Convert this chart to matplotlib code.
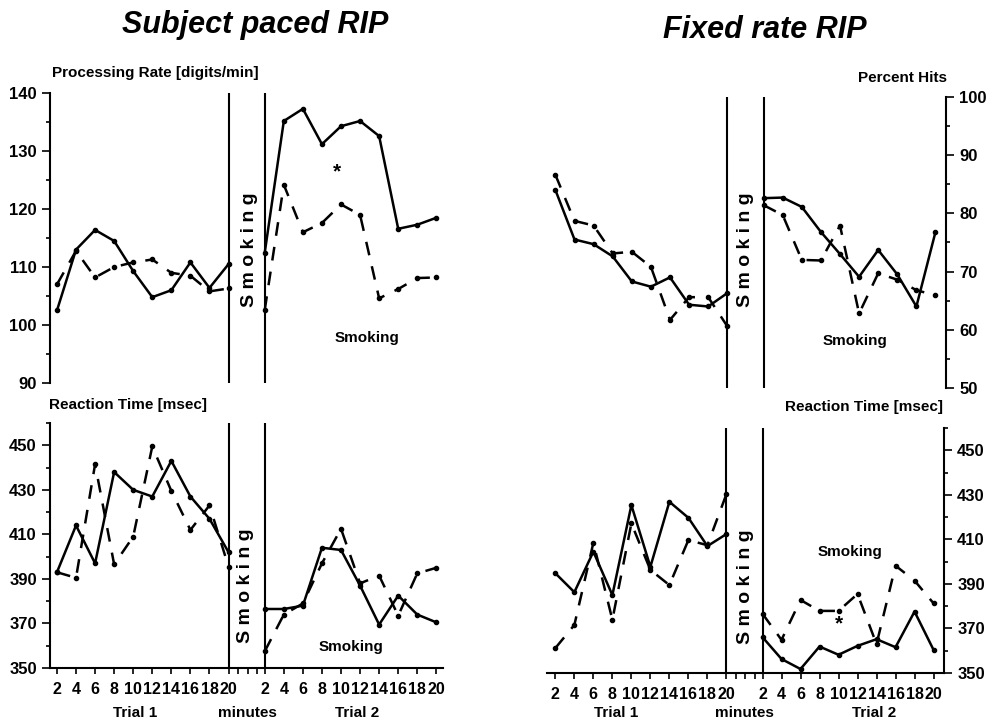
import matplotlib.pyplot as plt
import numpy as np
from matplotlib.ticker import MultipleLocator

plt.rcParams["font.family"] = ["Liberation Sans", "DejaVu Sans"]
plt.rcParams["font.weight"] = "bold"

minutes = [2, 4, 6, 8, 10, 12, 14, 16, 18, 20]

# subject paced RIP: processing rate [digits/min]
sp_rate_t1_a = [102.5, 113.0, 116.4, 114.5, 109.3, 104.8, 106.0, 110.8, 106.4, 110.5]
sp_rate_t1_b = [107.0, 112.8, 108.2, 110.0, 110.8, 111.3, 109.0, 108.5, 105.8, 106.3]
sp_rate_t2_a = [112.5, 135.2, 137.3, 131.2, 134.3, 135.2, 132.6, 116.6, 117.3, 118.5]
sp_rate_t2_b = [102.6, 124.2, 116.0, 117.6, 120.8, 119.0, 104.6, 106.2, 108.1, 108.2]

# subject paced RIP: reaction time [msec]
sp_rt_t1_a = [393, 414, 397, 438, 430, 427, 443, 427, 417, 402]
sp_rt_t1_b = [393, 390.5, 441.5, 396.5, 409, 449.5, 429.5, 412, 423, 395.5]
sp_rt_t2_a = [376.5, 376.5, 378, 404, 403, 387, 369.5, 382.5, 374, 370.5]
sp_rt_t2_b = [357.5, 374, 379, 397, 412.5, 388, 391.5, 373.5, 392.5, 395]

# fixed rate RIP: percent hits
fr_hits_t1_a = [84.0, 75.5, 74.7, 72.6, 68.3, 67.4, 69.0, 64.3, 64.0, 66.3]
fr_hits_t1_b = [86.6, 78.7, 77.9, 73.1, 73.4, 70.8, 61.7, 65.6, 65.6, 60.6]
fr_hits_t2_a = [82.6, 82.7, 81.1, 76.8, 73.0, 69.1, 73.7, 69.5, 64.0, 76.8]
fr_hits_t2_b = [81.4, 79.7, 72.0, 71.9, 77.9, 62.8, 69.7, 68.6, 66.8, 65.9]

# fixed rate RIP: reaction time [msec]
fr_rt_t1_a = [394.8, 386.3, 404.5, 385, 425.4, 397.7, 426.9, 419.7, 407, 412.4]
fr_rt_t1_b = [361.2, 371.6, 408.5, 373.9, 417.2, 396.3, 389.5, 409.7, 407.4, 430.3]
fr_rt_t2_a = [366.1, 356.3, 351.8, 361.9, 358.2, 362.2, 365.2, 361.6, 377.6, 360.4]
fr_rt_t2_b = [376.6, 364.9, 382.8, 377.9, 377.9, 385.5, 363, 398.2, 391.5, 381.3]

OFFSET = 21.8  # trial 2 is drawn after a gap on the same axis


def draw_panel(ax, t1_a, t1_b, t2_a, t2_b, xlim, ylim, side, bottom):
    x1 = np.array(minutes)
    x2 = x1 + OFFSET
    for xs, a, b in ((x1, t1_a, t1_b), (x2, t2_a, t2_b)):
        ax.plot(xs, a, color="black", lw=1.8, marker="o", ms=3)
        ax.plot(xs, b, color="black", lw=1.8, ls=(0, (5.5, 4.5)), marker="o", ms=3)
    ax.axvline(20, color="black", lw=1.5)
    ax.axvline(2 + OFFSET, color="black", lw=1.5)
    ax.set_xlim(*xlim)
    ax.set_ylim(*ylim)

    for s in ("top", "left", "right", "bottom"):
        ax.spines[s].set_visible(False)
    ax.spines[side].set_visible(True)
    ax.spines[side].set_linewidth(1.5)
    if side == "right":
        ax.yaxis.tick_right()
    ax.tick_params(axis="y", which="both", direction="out", width=1.2, labelsize=12)
    ax.tick_params(axis="y", which="major", length=6)
    ax.tick_params(axis="y", which="minor", length=3)

    if bottom:
        ax.spines["bottom"].set_visible(True)
        ax.spines["bottom"].set_linewidth(1.5)
        ax.set_xticks(list(x1) + list(x2))
        ax.set_xticklabels([str(m) for m in minutes] * 2)
        ax.set_xticks([21.0, 22.0, 23.0], minor=True)
        ax.tick_params(axis="x", which="both", direction="out", length=4, width=1.2,
                       labelsize=11.5, pad=6)
    else:
        ax.set_xticks([])


fig = plt.figure(figsize=(10, 7.28), dpi=100)

ax_tl = fig.add_axes([0.05, 0.474, 0.393, 0.398])
draw_panel(ax_tl, sp_rate_t1_a, sp_rate_t1_b, sp_rate_t2_a, sp_rate_t2_b,
           (1.27, 42.5), (90, 140), "left", False)
ax_tl.yaxis.set_major_locator(MultipleLocator(10))
ax_tl.yaxis.set_minor_locator(MultipleLocator(5))
ax_tl.text(9.6 + OFFSET, 126.5, "*", fontsize=15, ha="center", va="center")
ax_tl.text(12.7 + OFFSET, 97.7, "Smoking", fontsize=11, ha="center", va="center")

ax_bl = fig.add_axes([0.05, 0.0824, 0.393, 0.3365])
draw_panel(ax_bl, sp_rt_t1_a, sp_rt_t1_b, sp_rt_t2_a, sp_rt_t2_b,
           (1.27, 42.5), (350, 460), "left", True)
ax_bl.set_yticks([350, 370, 390, 410, 430, 450])
ax_bl.yaxis.set_minor_locator(MultipleLocator(10))
ax_bl.text(11.0 + OFFSET, 359.5, "Smoking", fontsize=11, ha="center", va="center")

ax_tr = fig.add_axes([0.547, 0.467, 0.399, 0.4])
draw_panel(ax_tr, fr_hits_t1_a, fr_hits_t1_b, fr_hits_t2_a, fr_hits_t2_b,
           (1.12, 42.9), (50, 100), "right", False)
ax_tr.yaxis.set_major_locator(MultipleLocator(10))
ax_tr.yaxis.set_minor_locator(MultipleLocator(5))
ax_tr.text(11.6 + OFFSET, 58, "Smoking", fontsize=11, ha="center", va="center")

ax_br = fig.add_axes([0.547, 0.0755, 0.397, 0.3365])
draw_panel(ax_br, fr_rt_t1_a, fr_rt_t1_b, fr_rt_t2_a, fr_rt_t2_b,
           (1.12, 42.9), (350, 460), "right", True)
ax_br.set_yticks([350, 370, 390, 410, 430, 450])
ax_br.yaxis.set_minor_locator(MultipleLocator(10))
ax_br.text(10.0 + OFFSET, 372, "*", fontsize=15, ha="center", va="center")
ax_br.text(11.2 + OFFSET, 404.5, "Smoking", fontsize=11, ha="center", va="center")

# vertical "Smoking" in the gap between trials
for x, y in ((0.250, 0.657), (0.246, 0.196), (0.745, 0.657), (0.745, 0.194)):
    fig.text(x, y, "S m o k i n g", rotation=90, fontsize=14, fontweight="semibold",
             ha="center", va="center")

fig.text(0.255, 0.966, "Subject paced RIP", fontsize=22, style="italic",
         ha="center", va="center")
fig.text(0.765, 0.959, "Fixed rate RIP", fontsize=22, style="italic",
         ha="center", va="center")

fig.text(0.052, 0.9, "Processing Rate [digits/min]", fontsize=11, ha="left", va="center")
fig.text(0.049, 0.444, "Reaction Time [msec]", fontsize=11, ha="left", va="center")
fig.text(0.947, 0.893, "Percent Hits", fontsize=11, ha="right", va="center")
fig.text(0.943, 0.441, "Reaction Time [msec]", fontsize=11, ha="right", va="center")

for x, label in ((0.135, "Trial 1"), (0.247, "minutes"), (0.357, "Trial 2"),
                 (0.616, "Trial 1"), (0.744, "minutes"), (0.874, "Trial 2")):
    fig.text(x, 0.02, label, fontsize=11, ha="center", va="center")

fig.savefig("out.png", dpi=100)
